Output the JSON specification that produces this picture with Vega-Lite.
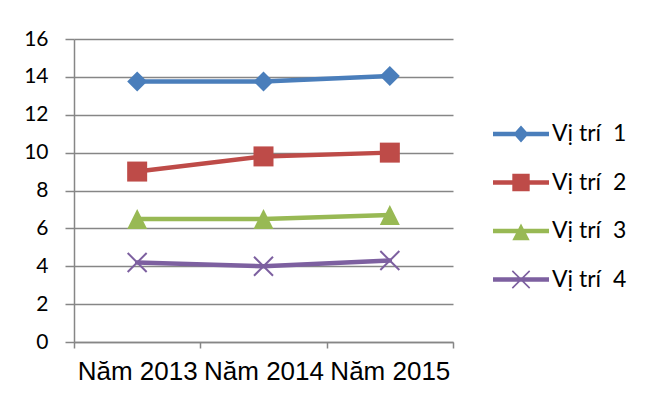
{
  "$schema": "https://vega.github.io/schema/vega-lite/v6.json",
  "width": 379,
  "height": 303,
  "autosize": {"type": "none"},
  "padding": {"left": 74, "top": 39, "right": 195, "bottom": 52},
  "background": "white",
  "config": {"view": {"stroke": null}, "font": "Lato"},
  "data": {
    "values": [
      {"nam": "Năm 2013", "series": "Vị trí 1", "value": 13.75},
      {"nam": "Năm 2014", "series": "Vị trí 1", "value": 13.75},
      {"nam": "Năm 2015", "series": "Vị trí 1", "value": 14.05},
      {"nam": "Năm 2013", "series": "Vị trí 2", "value": 9.0},
      {"nam": "Năm 2014", "series": "Vị trí 2", "value": 9.8},
      {"nam": "Năm 2015", "series": "Vị trí 2", "value": 10.0},
      {"nam": "Năm 2013", "series": "Vị trí 3", "value": 6.5},
      {"nam": "Năm 2014", "series": "Vị trí 3", "value": 6.5},
      {"nam": "Năm 2015", "series": "Vị trí 3", "value": 6.7},
      {"nam": "Năm 2013", "series": "Vị trí 4", "value": 4.2},
      {"nam": "Năm 2014", "series": "Vị trí 4", "value": 4.0},
      {"nam": "Năm 2015", "series": "Vị trí 4", "value": 4.3}
    ]
  },
  "encoding": {
    "x": {
      "field": "nam", "type": "nominal", "sort": null,
      "scale": {"paddingInner": 0, "paddingOuter": 0},
      "axis": {
        "title": null, "labelAngle": 0, "labelFont": "Liberation Sans", "labelFontSize": 26,
        "labelColor": "#000000", "labelOverlap": false, "labelPadding": 10,
        "tickBand": "extent", "tickSize": 6, "tickColor": "#868686", "tickWidth": 1.5,
        "domainColor": "#868686", "domainWidth": 1.5, "grid": false
      }
    },
    "y": {
      "field": "value", "type": "quantitative",
      "scale": {"domain": [0, 16], "nice": false},
      "axis": {
        "title": null, "values": [0, 2, 4, 6, 8, 10, 12, 14, 16],
        "labelFont": "Lato", "labelFontSize": 21, "labelColor": "#000000", "labelPadding": 17,
        "tickSize": 9, "tickColor": "#868686", "tickWidth": 1.5,
        "domainColor": "#868686", "domainWidth": 1.5,
        "grid": true, "gridColor": "#868686", "gridWidth": 1.5
      }
    }
  },
  "layer": [
    {
      "mark": {"type": "line", "strokeWidth": 4.5, "strokeCap": "round"},
      "encoding": {
        "color": {
          "field": "series", "type": "nominal",
          "scale": {"domain": ["Vị trí 1", "Vị trí 2", "Vị trí 3", "Vị trí 4"], "range": ["#4a7ebb", "#be4b48", "#98b954", "#7d60a0"]},
          "legend": null
        }
      }
    },
    {
      "mark": {"type": "point", "filled": true, "opacity": 1, "size": 400, "strokeWidth": 0},
      "encoding": {
        "color": {
          "field": "series", "type": "nominal",
          "scale": {"domain": ["Vị trí 1", "Vị trí 2", "Vị trí 3", "Vị trí 4"], "range": ["#4a7ebb", "#be4b48", "#98b954", "#7d60a0"]},
          "legend": null
        },
        "shape": {
          "field": "series", "type": "nominal",
          "scale": {"domain": ["Vị trí 1", "Vị trí 2", "Vị trí 3", "Vị trí 4"], "range": ["diamond", "square", "M0,-1L1,1L-1,1Z", "M-0.88,-1.02L1.02,0.88L0.88,1.02L-1.02,-0.88Z M-0.88,1.02L-1.02,0.88L0.88,-1.02L1.02,-0.88Z"]},
          "legend": null
        }
      }
    },
    {
      "transform": [{"filter": "false"}],
      "mark": {"type": "point", "filled": true, "opacity": 1, "size": 3136, "strokeWidth": 0},
      "encoding": {
        "color": {
          "field": "series", "type": "nominal",
          "scale": {"domain": ["Vị trí 1", "Vị trí 2", "Vị trí 3", "Vị trí 4"], "range": ["#4a7ebb", "#be4b48", "#98b954", "#7d60a0"]},
          "legend": {
            "title": null, "orient": "none", "legendX": 419, "legendY": 67,
            "labelFont": "Lato", "labelFontSize": 23, "labelColor": "#000000", "labelOffset": 3,
            "symbolSize": 3136, "symbolStrokeWidth": 0, "rowPadding": 8.5,
            "labelExpr": "replace(datum.label, 'í ', 'í\u00a0 ')"
          }
        },
        "shape": {
          "field": "series", "type": "nominal",
          "scale": {"domain": ["Vị trí 1", "Vị trí 2", "Vị trí 3", "Vị trí 4"], "range": [
            "M-1,-0.08H1V0.08H-1Z M-0.27,0L0,-0.3L0.27,0L0,0.3Z",
            "M-1,-0.08H1V0.08H-1Z M-0.31,-0.31H0.31V0.31H-0.31Z",
            "M-1,-0.08H1V0.08H-1Z M0,-0.27L0.31,0.33H-0.31Z",
            "M-1,-0.08H1V0.08H-1Z M-0.29,-0.33L0.33,0.29L0.29,0.33L-0.33,-0.29Z M-0.29,0.33L-0.33,0.29L0.29,-0.33L0.33,-0.29Z"
          ]},
          "legend": {
            "title": null, "orient": "none", "legendX": 419, "legendY": 67,
            "labelFont": "Lato", "labelFontSize": 23, "labelColor": "#000000", "labelOffset": 3,
            "symbolSize": 3136, "symbolStrokeWidth": 0, "rowPadding": 8.5,
            "labelExpr": "replace(datum.label, 'í ', 'í\u00a0 ')"
          }
        }
      }
    }
  ],
  "resolve": {
    "scale": {"shape": "independent", "color": "independent"},
    "legend": {"shape": "independent", "color": "independent"}
  }
}
